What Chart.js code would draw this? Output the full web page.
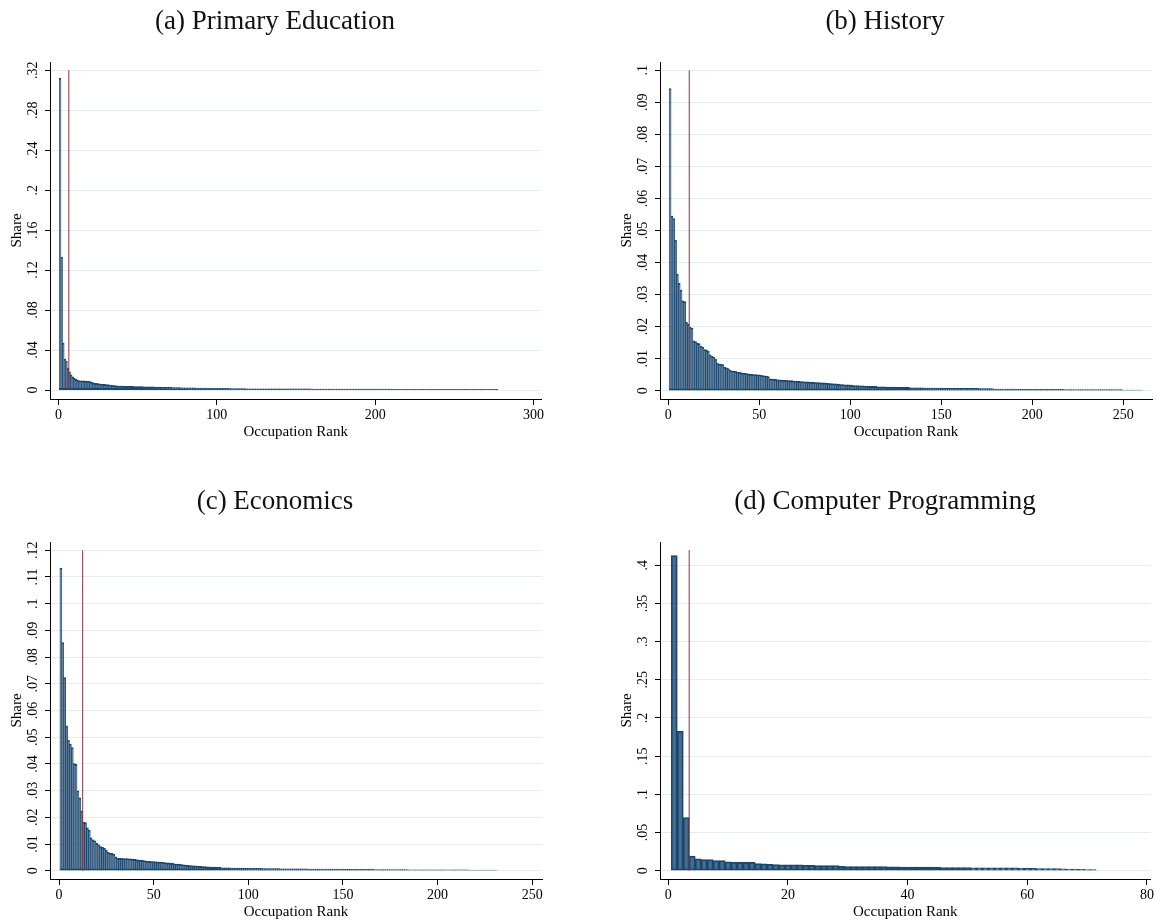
<!DOCTYPE html>
<html>
<head>
<meta charset="utf-8">
<script src="https://cdn.jsdelivr.net/npm/chart.js@4.4.0/dist/chart.umd.min.js"></script>
<style>
body { margin:0; background:#fff; width:1156px; height:922px; overflow:hidden; position:relative; font-family:"Liberation Serif", serif; }
.panel { position:absolute; width:546px; height:442px; }
.panel canvas { position:absolute; left:0; top:0; }
.ttl { position:absolute; left:0; top:4px; width:550px; text-align:center; font-size:27px; line-height:32px; color:#111; }
</style>
</head>
<body>
<div class="panel" style="left:0;top:0"><canvas id="c1" width="546" height="442"></canvas><div class="ttl">(a) Primary Education</div></div>
<div class="panel" style="left:610px;top:0"><canvas id="c2" width="546" height="442"></canvas><div class="ttl">(b) History</div></div>
<div class="panel" style="left:0;top:480px"><canvas id="c3" width="546" height="442"></canvas><div class="ttl">(c) Economics</div></div>
<div class="panel" style="left:610px;top:480px"><canvas id="c4" width="546" height="442"></canvas><div class="ttl">(d) Computer Programming</div></div>
<script>
// share of graduates by occupation rank (rank 1 = most common occupation)
var eduShare = [
  .312, .133, .047, .031, .029, .022, .018, .015, .013, .0115,
  .0105, .0098, .0093, .0091, .009, .009, .0089, .0088, .0086, .0083,
  .0076, .0070, .0067, .0065, .0063, .0061, .0058, .0056, .0055, .0054,
  .0053, .0051, .0049, .0046, .0044, .0043, .0041,
  .0039, .0039, .0038, .0038, .0037, .0037, .0036, .0036, .0035, .0035, .0034, .0034, .0034, .0033, .0033, .0033, .0032, .0032, .0032, .0031, .0031,
  .0030, .0030, .0029, .0029, .0028, .0028, .0027, .0027, .0026, .0026, .0025, .0025, .0025, .0024, .0024, .0024, .0023, .0023, .0023, .0022, .0022,
  .0021, .0021, .0021, .0020, .0020, .0020, .0020, .0019, .0019, .0019, .0019, .0018, .0018, .0018, .0018, .0017, .0017, .0017, .0017, .0016, .0016,
  .0016, .0016, .0016, .0015, .0015, .0015, .0015, .0015, .0014, .0014, .0014, .0014, .0014, .0013, .0013, .0013, .0013, .0013, .0012, .0012, .0012,
  .0012, .0012, .0012, .0012, .0012, .0012, .0012, .0012, .0012, .0012, .0012, .0012,
  .0011, .0011, .0011, .0011, .0011, .0011, .0011, .0011, .0011, .0011, .0011, .0011, .0011,
  .0010, .0010, .0010, .0010, .0010, .0010, .0010, .0010, .0010, .0010, .0010, .0010, .0010,
  .0009, .0009, .0009, .0009, .0009, .0009, .0009, .0009, .0009, .0009, .0009, .0009, .0009,
  .0009, .0009, .0009, .0009, .0009, .0009, .0009, .0009, .0009, .0009, .0009, .0009, .0009,
  .0008, .0008, .0008, .0008, .0008, .0008, .0008, .0008, .0008, .0008, .0008, .0008, .0008,
  .0008, .0008, .0008, .0008, .0008, .0008, .0008, .0008, .0008, .0008, .0008, .0008, .0008,
  .0007, .0007, .0007, .0007, .0007, .0007, .0007, .0007, .0007, .0007, .0007, .0007, .0007,
  .0006, .0006, .0006, .0006, .0006, .0006, .0006, .0006, .0006, .0006, .0006, .0006, .0006,
  .0005, .0005, .0005, .0005, .0005, .0005, .0005, .0005, .0005, .0005, .0005, .0005, .0005,
  .0004, .0004, .0004, .0004, .0004, .0004, .0004, .0004, .0004, .0004, .0004, .0004, .0004,
  .0003, .0003, .0003, .0003, .0003, .0003, .0003, .0003, .0003, .0003, .0003, .0003,
  .0002, .0002
];
var histShare = [
  .0943, .0545, .0537, .047, .0364, .0335, .0314, .028, .0278, .0213,
  .0208, .0198, .0195, .0155, .0153, .0148, .0147, .0138, .0136, .0128,
  .0127, .0123, .0112, .0108, .0105, .0098, .0086, .0083, .0082, .0081,
  .0073, .0071, .0069, .0064, .0062, .0061, .0060, .0058, .0057, .0056,
  .0055, .0054, .0053, .0052, .0051, .0051, .0050, .0050, .0049, .0049,
  .0048, .0047, .0046, .0045, .0044,
  .0037, .0036, .0035, .0035, .0034, .0034, .0033, .0033, .0032, .0032, .0031, .0031, .0031, .0030, .0030, .0029, .0029,
  .0028, .0028, .0027, .0027, .0027, .0026, .0026, .0026, .0025, .0025, .0025, .0024, .0024,
  .0024, .0023, .0023, .0022, .0022, .0021, .0021, .0020, .0020,
  .0019, .0019, .0018, .0018, .0018, .0017, .0017, .0016, .0016, .0016, .0015, .0015, .0015, .0014, .0014, .0014, .0013, .0013,
  .0013, .0013, .0012, .0012, .0012, .0012, .0012, .0011, .0011, .0011, .0011, .0011, .0011, .0010, .0010, .0010, .0010, .0010, .0010,
  .0010, .0009, .0009, .0009, .0009, .0009, .0009, .0009, .0009, .0008, .0008, .0008, .0008, .0008, .0008, .0008, .0008, .0008,
  .0008, .0007, .0007, .0007, .0007, .0007, .0007, .0007, .0007, .0007, .0007, .0007, .0007, .0007, .0007, .0007, .0007, .0007, .0007,
  .0007, .0007, .0006, .0006, .0006, .0006, .0006, .0006, .0006, .0006, .0005, .0005, .0005, .0005, .0005, .0005, .0005, .0005,
  .0005, .0005, .0005, .0005, .0005, .0004, .0004, .0004, .0004, .0004, .0004, .0004, .0004, .0004, .0004, .0004, .0004, .0004, .0004,
  .0004, .0004, .0004, .0004, .0004, .0004, .0004, .0004, .0004, .0004, .0004, .0004,
  .0003, .0003, .0003, .0003, .0003, .0003, .0003, .0003, .0003, .0003, .0003, .0003,
  .0003, .0003, .0003, .0003, .0003, .0003, .0003, .0003, .0003, .0003, .0003, .0003,
  .0003, .0003, .0003, .0003, .0003, .0003, .0003, .0003,
  .0002, .0002, .0002, .0002, .0002, .0002, .0002, .0002, .0002, .0002, .0002
];
var econShare = [
  .1133, .0854, .0723, .0542, .0489, .0474, .0461, .0401, .0398, .0299,
  .0273, .0223, .0181, .0180, .0160, .0152, .0123, .0115, .0112, .0102,
  .0097, .0090, .0087, .0084, .0077, .0069, .0065, .0065, .0061, .0052, .0047,
  .0046, .0046, .0045, .0045, .0045, .0044, .0044, .0043, .0042,
  .0041, .0040, .0040, .0039, .0038,
  .0036, .0035, .0035, .0034, .0034, .0033, .0033, .0032, .0032, .0031,
  .0030, .0029, .0029, .0028, .0027, .0026, .0025, .0025, .0024, .0023, .0022, .0021, .0020, .0019,
  .0019, .0018, .0018, .0017, .0016, .0016, .0015, .0015, .0014, .0014, .0013, .0013, .0013, .0012, .0012, .0012, .0011, .0011,
  .0011, .0011, .0011, .0010, .0010, .0010, .0010, .0010, .0010, .0010, .0009, .0009, .0009, .0009, .0009, .0009, .0009, .0009,
  .0009, .0009, .0008, .0008, .0008, .0008, .0008, .0008, .0008, .0008, .0008, .0007, .0007, .0007, .0007, .0007, .0007,
  .0007, .0007, .0007, .0007, .0007, .0007, .0007, .0007, .0007, .0006, .0006, .0006, .0006, .0006, .0006, .0006, .0006, .0006,
  .0006, .0006, .0006, .0006, .0006, .0006, .0006, .0006, .0006, .0005, .0005, .0005, .0005, .0005, .0005, .0005, .0005, .0005,
  .0005, .0005, .0005, .0005, .0005, .0005, .0005, .0005, .0004, .0004, .0004, .0004, .0004, .0004, .0004, .0004, .0004,
  .0004, .0004, .0004, .0004, .0004, .0004, .0004, .0004, .0004, .0003, .0003, .0003, .0003, .0003, .0003, .0003, .0003, .0003,
  .0003, .0003, .0003, .0003, .0003, .0003, .0003, .0003, .0003, .0003, .0003, .0003, .0003, .0003, .0003, .0003, .0003, .0003,
  .0003, .0003, .0003, .0003, .0003, .0002, .0002, .0002, .0002, .0002, .0002, .0002, .0002, .0002, .0002, .0002, .0002, .0002, .0002, .0002
];
var progShare = [
  .4127, .1824, .0694, .0189, .0154, .0145, .0145, .0132, .0132, .0114,
  .011, .011, .011, .011, .0092, .0088, .0083, .0079, .0075, .0075,
  .0075, .0075, .007, .007, .0066, .0066, .0066, .0066, .0057,
  .0053, .0053, .0053, .0053, .0053, .0053, .0053,
  .0048, .0048, .0047, .0047, .0046, .0046, .0045, .0045, .0044,
  .004, .004, .004, .004, .004,
  .0035, .0035, .0035, .0035, .0035, .0035, .0035, .0035,
  .0031, .0030, .0029, .0028, .0028, .0027, .0026,
  .0022, .0020, .0019, .0017, .0015, .0013
];

// rank after which the vertical marker is drawn
var eduCut = 6.5, histCut = 11.5, econCut = 12.5, progCut = 3.5;

var eduTicksX = [0, 100, 200, 300];
var histTicksX = [0, 50, 100, 150, 200, 250];
var econTicksX = [0, 50, 100, 150, 200, 250];
var progTicksX = [0, 20, 40, 60, 80];

var eduTicksY = [0, .04, .08, .12, .16, .2, .24, .28, .32];
var histTicksY = [0, .01, .02, .03, .04, .05, .06, .07, .08, .09, .1];
var econTicksY = [0, .01, .02, .03, .04, .05, .06, .07, .08, .09, .1, .11, .12];
var progTicksY = [0, .05, .1, .15, .2, .25, .3, .35, .4];

var serif = '"Liberation Serif", serif';

function stataNum(v) {
  if (v === 0) return '0';
  return String(+v.toFixed(4)).replace(/^0\./, '.');
}

// y labels in Stata style: rotated, reading upwards
var rotLabels = {
  id: 'rotLabels',
  afterDraw: function(chart) {
    var s = chart.scales.y, ctx = chart.ctx;
    ctx.save();
    ctx.font = '14px ' + serif;
    ctx.fillStyle = '#000';
    ctx.textAlign = 'center';
    ctx.textBaseline = 'middle';
    s.ticks.forEach(function(t) {
      var y = s.getPixelForValue(t.value);
      ctx.save();
      ctx.translate(33, y);
      ctx.rotate(-Math.PI / 2);
      ctx.fillText(stataNum(t.value), 0, 0);
      ctx.restore();
    });
    ctx.restore();
  }
};

function makePanel(id, shares, xTicks, yTicks, xMin, xMax, yMin, yMax, cut, lineTop) {
  var pts = [];
  for (var i = 0; i < shares.length; i++) {
    pts.push({x: i + 1, y: shares[i]});
  }
  new Chart(document.getElementById(id), {
    type: 'bar',
    data: {
      datasets: [
        {
          type: 'line',
          data: [{x: cut, y: 0}, {x: cut, y: lineTop}],
          borderColor: '#90353b',
          borderWidth: 1,
          pointRadius: 0,
          order: 0
        },
        {
          type: 'bar',
          data: pts,
          backgroundColor: 'rgba(26,71,111,0.8)',
          borderColor: '#1a476f',
          borderWidth: 1,
          borderSkipped: false,
          inflateAmount: 0.4,
          barPercentage: 1,
          categoryPercentage: 1,
          order: 1
        }
      ]
    },
    options: {
      responsive: false,
      animation: false,
      layout: {padding: {left: 0, top: 62, right: 4, bottom: 0}},
      plugins: {legend: {display: false}, tooltip: {enabled: false}},
      scales: {
        x: {
          type: 'linear',
          min: xMin,
          max: xMax,
          offset: false,
          afterBuildTicks: function(s) { s.ticks = xTicks.map(function(v) { return {value: v}; }); },
          afterFit: function(s) { s.height = 43; },
          grid: {display: true, drawOnChartArea: false, drawTicks: true, tickLength: 6, tickColor: '#000', offset: false},
          border: {display: true, color: '#000', width: 1},
          ticks: {font: {family: serif, size: 14}, color: '#000', padding: 2, maxRotation: 0, autoSkip: false},
          title: {display: true, text: 'Occupation Rank', font: {family: serif, size: 15}, color: '#000', padding: {top: 0, bottom: 1}}
        },
        y: {
          min: yMin,
          max: yMax,
          afterBuildTicks: function(s) { s.ticks = yTicks.map(function(v) { return {value: v}; }); },
          afterFit: function(s) { s.width = 50; },
          grid: {color: '#e4eef0', lineWidth: 1, drawTicks: true, tickLength: 5, tickColor: '#000'},
          border: {display: true, color: '#000', width: 1},
          ticks: {display: false},
          title: {display: true, text: 'Share', font: {family: serif, size: 15}, color: '#000', padding: {top: 8, bottom: 0}}
        }
      }
    },
    plugins: [rotLabels]
  });
}

makePanel('c1', eduShare, eduTicksX, eduTicksY, -5.4, 305, -0.009, 0.3283, eduCut, 0.32);
makePanel('c2', histShare, histTicksX, histTicksY, -4.56, 265.8, -0.0026, 0.1026, histCut, 0.1);
makePanel('c3', econShare, econTicksX, econTicksY, -4.76, 255.2, -0.0031, 0.1231, econCut, 0.12);
makePanel('c4', progShare, progTicksX, progTicksY, -1.38, 80.6, -0.0109, 0.4305, progCut, 0.42);
</script>
</body>
</html>
